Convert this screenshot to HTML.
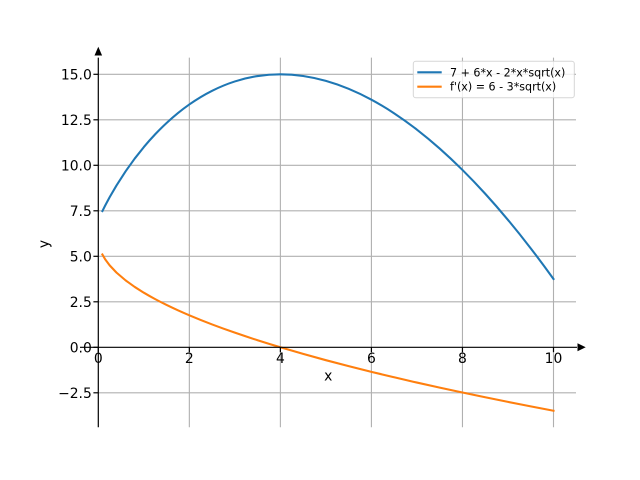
<!DOCTYPE html>
<html><head><meta charset="utf-8"><style>
html,body{margin:0;padding:0;background:#fff;}
svg{display:block;}
text{font-family:"DejaVu Sans","Liberation Sans",sans-serif;fill:#000;}
</style></head><body>
<svg width="640" height="480" viewBox="0 0 640 480" xmlns="http://www.w3.org/2000/svg">
<rect width="640" height="480" fill="#fff"/>
<!-- grid -->
<g stroke="#b0b0b0" stroke-width="1.1" fill="none">
<line x1="98.3" y1="74.3" x2="576" y2="74.3"/>
<line x1="98.3" y1="119.8" x2="576" y2="119.8"/>
<line x1="98.3" y1="165.3" x2="576" y2="165.3"/>
<line x1="98.3" y1="210.8" x2="576" y2="210.8"/>
<line x1="98.3" y1="256.3" x2="576" y2="256.3"/>
<line x1="98.3" y1="301.8" x2="576" y2="301.8"/>
<line x1="98.3" y1="392.8" x2="576" y2="392.8"/>
<line x1="189.34" y1="57.6" x2="189.34" y2="427.2"/>
<line x1="280.38" y1="57.6" x2="280.38" y2="427.2"/>
<line x1="371.42" y1="57.6" x2="371.42" y2="427.2"/>
<line x1="462.46" y1="57.6" x2="462.46" y2="427.2"/>
<line x1="553.5" y1="57.6" x2="553.5" y2="427.2"/>
</g>
<!-- curves -->
<path fill="none" stroke="#1f77b4" stroke-width="2.08" stroke-linejoin="round" stroke-linecap="square" d="M102.40,211.05 L105.13,205.63 L109.68,197.15 L116.51,185.43 L125.61,171.3 L134.72,158.58 L143.82,147.1
C147.61,142.55 151.41,138.28 155.20,134.27
C158.99,130.26 162.79,126.50 166.58,122.97
C170.37,119.44 174.17,116.15 177.96,113.07
C181.75,109.99 185.55,107.13 189.34,104.46
C196.93,99.13 204.51,94.60 212.10,90.79
C219.69,86.98 227.27,83.87 234.86,81.43
C242.45,78.99 250.03,77.23 257.62,76.05
C265.21,74.88 272.79,74.3 280.38,74.3
C287.97,74.3 295.55,74.87 303.14,75.97
C310.73,77.07 318.31,78.72 325.90,80.87
C333.49,83.02 341.07,85.67 348.66,88.81
C356.25,91.95 363.83,95.58 371.42,99.67
C379.01,103.76 386.59,108.32 394.18,113.32
C401.77,118.32 409.35,123.77 416.94,129.65
C424.53,135.53 432.11,141.82 439.70,148.54
C447.29,155.26 454.87,162.40 462.46,169.94
C470.05,177.48 477.63,185.42 485.22,193.75
C492.81,202.08 500.39,210.8 507.98,219.9
C515.57,229.0 523.15,238.48 530.74,248.33
C538.33,258.18 545.91,268.40 553.50,278.98"/>
<path fill="none" stroke="#ff7f0e" stroke-width="2.08" stroke-linejoin="round" stroke-linecap="square" d="M102.40,254.48 L105.13,259.25 L109.68,265.4 L116.51,272.63 L125.61,280.39 L134.72,286.94 L143.82,292.7
C147.61,294.98 151.41,297.11 155.20,299.14
C158.99,301.18 162.79,303.11 166.58,304.97
C170.37,306.83 174.17,308.61 177.96,310.33
C181.75,312.05 185.55,313.71 189.34,315.32
C196.93,318.54 204.51,321.55 212.10,324.43
C219.69,327.31 227.27,330.04 234.86,332.67
C242.45,335.30 250.03,337.82 257.62,340.25
C265.21,342.68 272.79,345.03 280.38,347.3
C287.97,349.58 295.55,351.78 303.14,353.92
C310.73,356.07 318.31,358.16 325.90,360.19
C333.49,362.23 341.07,364.21 348.66,366.15
C356.25,368.09 363.83,369.98 371.42,371.84
C379.01,373.70 386.59,375.52 394.18,377.30
C401.77,379.09 409.35,380.84 416.94,382.56
C424.53,384.28 432.11,385.97 439.70,387.63
C447.29,389.29 454.87,390.92 462.46,392.53
C470.05,394.14 477.63,395.72 485.22,397.28
C492.81,398.84 500.39,400.38 507.98,401.9
C515.57,403.42 523.15,404.91 530.74,406.39
C538.33,407.87 545.91,409.32 553.50,410.76"/>
<!-- spines -->
<g stroke="#000" stroke-width="1.2">
<line x1="98.3" y1="57.6" x2="98.3" y2="427.2"/>
<line x1="80" y1="347.3" x2="577" y2="347.3"/>
<!-- y ticks -->
<line x1="93.4" y1="74.3" x2="98.3" y2="74.3"/>
<line x1="93.4" y1="119.8" x2="98.3" y2="119.8"/>
<line x1="93.4" y1="165.3" x2="98.3" y2="165.3"/>
<line x1="93.4" y1="210.8" x2="98.3" y2="210.8"/>
<line x1="93.4" y1="256.3" x2="98.3" y2="256.3"/>
<line x1="93.4" y1="301.8" x2="98.3" y2="301.8"/>
<line x1="93.4" y1="347.3" x2="98.3" y2="347.3"/>
<line x1="93.4" y1="392.8" x2="98.3" y2="392.8"/>
<!-- x ticks -->
<line x1="98.3" y1="347.3" x2="98.3" y2="352.2"/>
<line x1="189.34" y1="347.3" x2="189.34" y2="352.2"/>
<line x1="280.38" y1="347.3" x2="280.38" y2="352.2"/>
<line x1="371.42" y1="347.3" x2="371.42" y2="352.2"/>
<line x1="462.46" y1="347.3" x2="462.46" y2="352.2"/>
<line x1="553.5" y1="347.3" x2="553.5" y2="352.2"/>
</g>
<!-- arrows -->
<polygon points="98.3,46.7 94.5,55.5 102.1,55.5" fill="#000"/>
<polygon points="585.7,347.3 577.5,343.3 577.5,351.3" fill="#000"/>
<!-- y tick labels -->
<g font-size="13.9" text-anchor="end">
<text x="91.8" y="79.3">15.0</text>
<text x="91.8" y="124.8">12.5</text>
<text x="91.8" y="170.3">10.0</text>
<text x="91.8" y="215.8">7.5</text>
<text x="91.8" y="261.3">5.0</text>
<text x="91.8" y="306.8">2.5</text>
<text x="91.8" y="352.3">0.0</text>
<text x="91.8" y="397.8">−2.5</text>
</g>
<!-- x tick labels -->
<g font-size="13.9" text-anchor="middle">
<text x="98.3" y="363">0</text>
<text x="189.34" y="363">2</text>
<text x="280.38" y="363">4</text>
<text x="371.42" y="363">6</text>
<text x="462.46" y="363">8</text>
<text x="553.5" y="363">10</text>
</g>
<!-- axis labels -->
<text x="328.3" y="380.5" font-size="13.9" text-anchor="middle">x</text>
<text transform="translate(48.5,244) rotate(-90)" font-size="13.9" text-anchor="middle">y</text>
<!-- legend -->
<rect x="413.3" y="61.3" width="161" height="36.4" rx="2.5" ry="2.5" fill="#fff" fill-opacity="0.8" stroke="#cccccc" stroke-opacity="0.8" stroke-width="1"/>
<line x1="417.3" y1="72.3" x2="441.7" y2="72.3" stroke="#1f77b4" stroke-width="2.08"/>
<line x1="417.3" y1="86.7" x2="441.7" y2="86.7" stroke="#ff7f0e" stroke-width="2.08"/>
<g font-size="11.1">
<text x="450" y="76.3">7 + 6*x - 2*x*sqrt(x)</text>
<text x="450" y="90.7">f'(x) = 6 - 3*sqrt(x)</text>
</g>
</svg>
</body></html>
